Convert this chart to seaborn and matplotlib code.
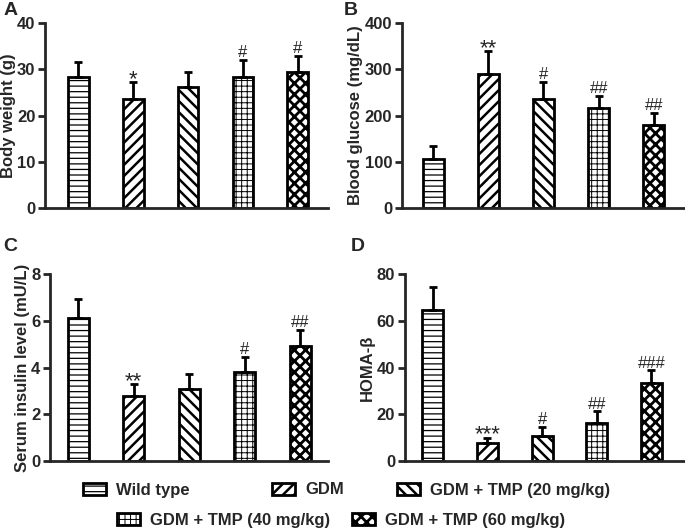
import numpy as np
import pandas as pd
import matplotlib
matplotlib.use("Agg")
import matplotlib.pyplot as plt
import seaborn as sns
from matplotlib.patches import Patch

groups = ["Wild type", "GDM", "GDM + TMP (20 mg/kg)",
          "GDM + TMP (40 mg/kg)", "GDM + TMP (60 mg/kg)"]

bw_mean = [28.4, 23.5, 26.2, 28.4, 29.4]
bw_err = [3.2, 3.7, 3.3, 3.7, 3.5]
bw_marks = ["", "*", "", "#", "#"]

glu_mean = [106, 290, 236, 216, 180]
glu_err = [29, 49, 36, 27, 25]
glu_marks = ["", "**", "#", "##", "##"]

ins_mean = [6.1, 2.77, 3.09, 3.81, 4.91]
ins_err = [0.83, 0.53, 0.65, 0.64, 0.69]
ins_marks = ["", "**", "", "#", "##"]

homa_mean = [64.6, 7.9, 10.8, 16.2, 33.3]
homa_err = [9.8, 2.1, 3.9, 5.1, 5.5]
homa_marks = ["", "***", "#", "##", "###"]

hatches = ["---", "///", "\\\\\\", "+++", "xxx"]
hatch_lw = [0.9, 1.8, 1.8, 0.7, 2.0]

sns.set_style("ticks")
plt.rcParams["font.family"] = ["Liberation Sans", "DejaVu Sans"]
plt.rcParams["font.weight"] = "bold"
plt.rcParams["hatch.linewidth"] = 1.2


def hatch_width(patch, lw):
    # hatch line width is a global rc setting in older matplotlib
    if hasattr(patch, "set_hatch_linewidth"):
        patch.set_hatch_linewidth(lw)
    patch._hatch_linewidth = lw
    orig = patch.draw

    def draw(renderer):
        with plt.rc_context({"hatch.linewidth": lw}):
            orig(renderer)
    patch.draw = draw


fig = plt.figure(figsize=(6.85, 5.3), dpi=100)

# letter, axes rect, data, label, ymax, step, xlim, letter position (px)
panels = [
    ("A", [0.066, 0.6075, 0.413, 0.349], bw_mean, bw_err, bw_marks,
     "Body weight (g)", 40, 10, (-0.6, 4.55), (4, 2)),
    ("B", [0.587, 0.6075, 0.412, 0.349], glu_mean, glu_err, glu_marks,
     "Blood glucose (mg/dL)", 400, 100, (-0.56, 4.55), (344, 2)),
    ("C", [0.073, 0.130, 0.406, 0.353], ins_mean, ins_err, ins_marks,
     "Serum insulin level (mU/L)", 8, 2, (-0.51, 4.5), (3, 238)),
    ("D", [0.591, 0.130, 0.408, 0.353], homa_mean, homa_err, homa_marks,
     "HOMA-β", 80, 20, (-0.51, 4.6), (351, 238)),
]
W, H = 685, 530

for letter, rect, mean, err, marks, ylabel, ymax, step, xlim, lpos in panels:
    ax = fig.add_axes(rect)
    df = pd.DataFrame({"group": groups, "value": mean})
    sns.barplot(data=df, x="group", y="value", ax=ax, color="white",
                edgecolor="black", linewidth=2, width=0.38, errorbar=None,
                saturation=1)
    for p, h, hl in zip(ax.patches, hatches, hatch_lw):
        p.set_hatch(h)
        p.set_facecolor("white")
        p.set_edgecolor("black")
        hatch_width(p, hl)
    x = np.arange(len(groups))
    ax.errorbar(x, mean, yerr=[np.zeros(len(mean)), err], fmt="none",
                ecolor="black", elinewidth=2, capsize=3, capthick=2, zorder=1)
    for xi, m, e, s in zip(x, mean, err, marks):
        if s:
            star = "*" in s
            ax.annotate(s, (xi, m + e), xytext=(0, -2 if star else 2),
                        textcoords="offset points", ha="center", va="baseline",
                        fontsize=16 if star else 12, fontweight="normal")
    ax.set_ylim(0, ymax)
    ax.set_yticks(np.arange(0, ymax + step, step))
    ax.set_xlim(*xlim)
    ax.set_xticks([])
    ax.set_xlabel("")
    ax.set_ylabel(ylabel, fontsize=12, fontweight="bold", labelpad=1)
    ax.tick_params(axis="y", labelsize=12, width=2, length=5, direction="out", pad=2)
    for lab in ax.get_yticklabels():
        lab.set_fontweight("bold")
    sns.despine(ax=ax)
    ax.spines["left"].set_linewidth(2)
    ax.spines["bottom"].set_linewidth(2)
    ax.spines["bottom"].set_zorder(5)
    fig.text(lpos[0] / W, 1 - lpos[1] / H, letter, fontsize=14,
             fontweight="bold", ha="left", va="top")

# legend entries placed one by one: patch left edge (px) and row
leg_x = [83, 272, 397, 117, 352]
leg_row = [490, 490, 490, 520, 520]
leg_font = {"family": ["Liberation Sans"], "weight": "bold", "size": 12}
for g, h, hl, lx, ly in zip(groups, hatches, hatch_lw, leg_x, leg_row):
    handle = Patch(facecolor="white", edgecolor="black", linewidth=2, hatch=h)
    leg = fig.legend([handle], [g], loc="center left",
                     bbox_to_anchor=(lx / W, 1 - ly / H), frameon=False,
                     handlelength=1.4, handleheight=0.7, handletextpad=0.6,
                     borderpad=0, borderaxespad=0, prop=leg_font)
    for lp in leg.get_patches():
        hatch_width(lp, hl)

fig.savefig("out.png", dpi=100)
